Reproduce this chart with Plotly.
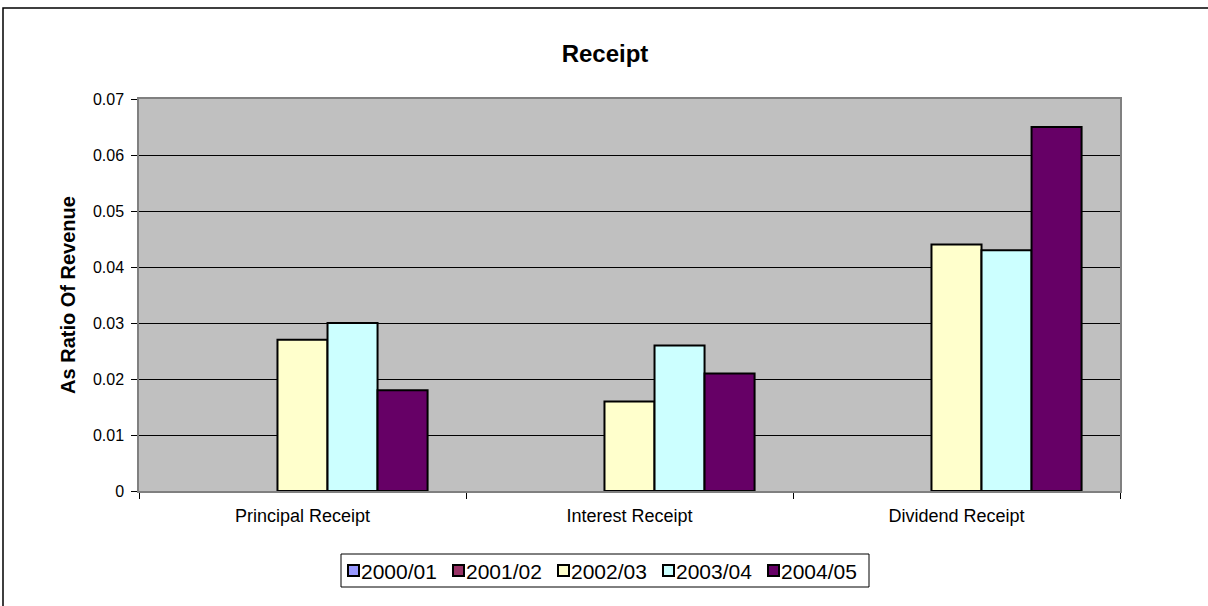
import plotly.graph_objects as go

categories = ["Principal Receipt", "Interest Receipt", "Dividend Receipt"]
series_names = ["2000/01", "2001/02", "2002/03", "2003/04", "2004/05"]
v_2000_01 = [None, None, None]
v_2001_02 = [None, None, None]
v_2002_03 = [0.027, 0.016, 0.044]
v_2003_04 = [0.030, 0.026, 0.043]
v_2004_05 = [0.018, 0.021, 0.065]
colors = ["#9999FF", "#993366", "#FFFFCC", "#CCFFFF", "#660066"]

values = [v_2000_01, v_2001_02, v_2002_03, v_2003_04, v_2004_05]
FONT = "Liberation Sans, Arial, sans-serif"

fig = go.Figure()
for name, vals, col in zip(series_names, values, colors):
    fig.add_trace(go.Bar(
        x=categories, y=vals, name=name, showlegend=False,
        marker=dict(color=col, line=dict(color="#000000", width=2)),
    ))

W, H = 1208, 606
L, R, T, B = 139, 88, 99, 115
pw, ph = W - L - R, H - T - B

def px_x(p):
    return (p - L) / pw

def px_y(p):
    return (H - B - p) / ph

# chart border + legend box + legend entries (drawn as layout decorations)
shapes = [
    dict(type="rect", xref="paper", yref="paper",
         x0=px_x(3), x1=px_x(1215), y0=px_y(615), y1=px_y(8),
         line=dict(color="#000000", width=1.5), fillcolor="rgba(0,0,0,0)", layer="below"),
    dict(type="rect", xref="paper", yref="paper",
         x0=px_x(341), x1=px_x(869), y0=px_y(587), y1=px_y(554),
         line=dict(color="#000000", width=1), fillcolor="#FFFFFF", layer="below"),
]
annotations = []
LEG_X0, LEG_STEP, LEG_YC = 348, 105, 570.5
for i, (name, col) in enumerate(zip(series_names, colors)):
    sx = LEG_X0 + i * LEG_STEP
    shapes.append(dict(type="rect", xref="paper", yref="paper",
                       x0=px_x(sx), x1=px_x(sx + 11),
                       y0=px_y(LEG_YC + 5.5), y1=px_y(LEG_YC - 5.5),
                       line=dict(color="#000000", width=2), fillcolor=col))
    annotations.append(dict(text=name, xref="paper", yref="paper",
                            x=px_x(sx + 11), xanchor="left",
                            y=px_y(LEG_YC + 1), yanchor="middle", showarrow=False,
                            font=dict(family=FONT, size=21, color="#000000")))

fig.update_layout(
    width=W, height=H,
    margin=dict(l=L, r=R, t=T, b=B),
    paper_bgcolor="#FFFFFF",
    plot_bgcolor="#C0C0C0",
    barmode="group",
    bargap=0.235,
    bargroupgap=0,
    font=dict(family=FONT, color="#000000", size=16),
    title=dict(text="<b>Receipt</b>", x=605 / W, xanchor="center", xref="container",
               y=1 - 54 / H, yanchor="middle", yref="container",
               font=dict(family=FONT, size=24, color="#000000")),
    showlegend=False,
    xaxis=dict(
        type="category", tickson="boundaries", ticks="outside", ticklen=6,
        tickcolor="#000000", showline=True, linecolor="#808080", linewidth=1.5,
        mirror=True, showgrid=False, ticklabelstandoff=8,
        tickfont=dict(family=FONT, size=18, color="#000000"),
    ),
    yaxis=dict(
        range=[0, 0.07], dtick=0.01, tick0=0, ticks="outside", ticklen=6,
        tickcolor="#000000", showline=True, linecolor="#808080", linewidth=1.5,
        mirror=True, showgrid=True, gridcolor="#000000", gridwidth=1,
        zeroline=False, ticklabelstandoff=4,
        tickfont=dict(family=FONT, size=16, color="#000000"),
        title=dict(text="<b>As Ratio Of Revenue</b>", standoff=12,
                   font=dict(family=FONT, size=20, color="#000000")),
    ),
    shapes=shapes,
    annotations=annotations,
)

fig.write_html("out.html", config={"displayModeBar": False},
               post_script="document.body.style.margin='0';document.body.style.overflow='hidden';")
